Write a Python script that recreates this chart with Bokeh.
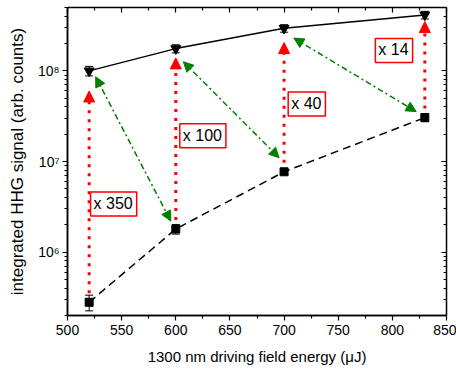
from bokeh.plotting import figure
from bokeh.models import (ColumnDataSource, Whisker, TeeHead, Arrow, NormalHead, Label,
                          LogAxis, LinearAxis, FixedTicker, CustomJSTickFormatter, Range1d)
from bokeh.embed import file_html
from bokeh.resources import INLINE

# ---- data ----
energy = [520, 600, 700, 830]
signal_high = [1.0e8, 1.76e8, 2.95e8, 4.14e8]
err_high = [1.2e7, 1.8e7, 2.8e7, 4.0e7]
signal_low = [2.8e5, 1.8e6, 7.7e6, 3.05e7]
err_low = [5.5e4, 2.2e5, 5.0e5, 3.0e6]

ratio_labels = ["x 350", "x 100", "x 40", "x 14"]
label_x = [542.6, 625, 721, 801.5]
label_y = [3.4e6, 1.92e7, 4.3e7, 1.68e8]

red_tip = [6.0e7, 1.39e8, 2.05e8, 3.5e8]

green_x_start = [526, 607, 709]
green_y_start = [8.6e7, 1.26e8, 2.3e8]
green_x_end = [595.4, 695.4, 822]
green_y_end = [2.2e6, 1.1e7, 3.55e7]

x_ticks = [500, 550, 600, 650, 700, 750, 800, 850]
x_minor = [525, 575, 625, 675, 725, 775, 825]
y_ticks = [1e6, 1e7, 1e8]
y_minor = [m * 10 ** e for e in range(5, 9) for m in range(2, 10)]

FONT = "Liberation Sans"

p = figure(width=456, height=371, x_range=Range1d(500, 850), y_range=Range1d(2e5, 5e8),
           y_axis_type="log", output_backend="svg", toolbar_location=None,
           min_border_left=67, min_border_right=10, min_border_top=7, min_border_bottom=56)
p.background_fill_color = "white"
p.border_fill_color = "white"
p.grid.visible = False
p.outline_line_color = "black"
p.outline_line_width = 1.5

sup_js = """
const sup = {'0':'\u2070','1':'\u00b9','2':'\u00b2','3':'\u00b3','4':'\u2074','5':'\u2075','6':'\u2076','7':'\u2077','8':'\u2078','9':'\u2079','-':'\u207b'};
const e = Math.round(Math.log10(tick));
return '10' + String(e).split('').map(c => sup[c]).join('');
"""

xt = FixedTicker(ticks=x_ticks, minor_ticks=x_minor)
yt = FixedTicker(ticks=y_ticks, minor_ticks=y_minor)

xa = p.xaxis[0]
xa.ticker = xt
ya = p.yaxis[0]
ya.ticker = yt
ya.formatter = CustomJSTickFormatter(code=sup_js)

for ax in (xa, ya):
    ax.axis_line_color = "black"
    ax.axis_line_width = 1.5
    ax.major_tick_in = 0
    ax.major_tick_out = 5
    ax.minor_tick_in = 0
    ax.minor_tick_out = 3
    ax.major_tick_line_width = 1.2
    ax.minor_tick_line_width = 1.2
    ax.major_label_text_font = FONT
    ax.major_label_text_font_size = "14px"
    ax.major_label_text_color = "black"
    ax.axis_label_text_font = FONT
    ax.axis_label_text_font_style = "normal"
    ax.axis_label_text_color = "black"

xa.axis_label = "1300 nm driving field energy (\u03bcJ)"
xa.axis_label_text_font_size = "15px"
xa.major_label_standoff = 4
xa.axis_label_standoff = 10
ya.axis_label = "integrated HHG signal (arb. counts)"
ya.axis_label_text_font_size = "17px"
ya.major_label_standoff = 3
ya.axis_label_standoff = 8

# mirror axes with inward ticks
top = LinearAxis(ticker=FixedTicker(ticks=x_ticks, minor_ticks=x_minor))
right = LogAxis(ticker=FixedTicker(ticks=y_ticks, minor_ticks=y_minor))
for ax in (top, right):
    ax.major_tick_in = 5
    ax.major_tick_out = 0
    ax.minor_tick_in = 3
    ax.minor_tick_out = 0
    ax.major_label_text_font_size = "1px"
    ax.major_label_text_alpha = 0
    ax.major_label_standoff = 0
    ax.axis_line_color = None
    ax.major_tick_line_width = 1.2
    ax.minor_tick_line_width = 1.2
p.add_layout(top, "above")
p.add_layout(right, "right")

# red dotted arrows (ratio)
for xi, y0, y1 in zip(energy, signal_low, red_tip):
    arr = Arrow(x_start=xi, y_start=y0, x_end=xi, y_end=y1,
                line_color="red", line_width=3, line_dash="3 6",
                end=NormalHead(size=11, fill_color="red", line_color="red", line_width=1))
    arr.level = "underlay"
    p.add_layout(arr)

# green dash-dot double arrows
for xs, ys, xe, ye in zip(green_x_start, green_y_start, green_x_end, green_y_end):
    arr = Arrow(x_start=xs, y_start=ys, x_end=xe, y_end=ye,
                line_color="green", line_width=1.5, line_dash="6 3 2 3",
                start=NormalHead(size=10, fill_color="green", line_color="green", line_width=1),
                end=NormalHead(size=10, fill_color="green", line_color="green", line_width=1))
    arr.level = "underlay"
    p.add_layout(arr)

src_h = ColumnDataSource(dict(x=energy, y=signal_high,
                              lo=[a - b for a, b in zip(signal_high, err_high)],
                              hi=[a + b for a, b in zip(signal_high, err_high)]))
src_l = ColumnDataSource(dict(x=energy, y=signal_low,
                              lo=[a - b for a, b in zip(signal_low, err_low)],
                              hi=[a + b for a, b in zip(signal_low, err_low)]))

p.line("x", "y", source=src_h, line_color="black", line_width=1.5)
p.line("x", "y", source=src_l, line_color="black", line_width=1.5, line_dash="8 5")

for src in (src_h, src_l):
    w = Whisker(source=src, base="x", lower="lo", upper="hi", line_color="black", line_width=1,
                upper_head=TeeHead(size=8, line_color="black", line_width=1),
                lower_head=TeeHead(size=8, line_color="black", line_width=1))
    p.add_layout(w)

p.scatter("x", "y", source=src_h, marker="inverted_triangle", size=10,
          fill_color="black", line_color="black")
p.scatter("x", "y", source=src_l, marker="square", size=8,
          fill_color="black", line_color="black")

for t, lx, ly in zip(ratio_labels, label_x, label_y):
    p.add_layout(Label(x=lx, y=ly, text=t, text_align="center", text_baseline="middle",
                       text_font=FONT, text_font_size="16px", text_color="black",
                       background_fill_color="white", border_line_color="red",
                       border_line_width=1.5, padding=(3, 4, 3, 4)))

open("out.html", "w").write(file_html(p, INLINE))
